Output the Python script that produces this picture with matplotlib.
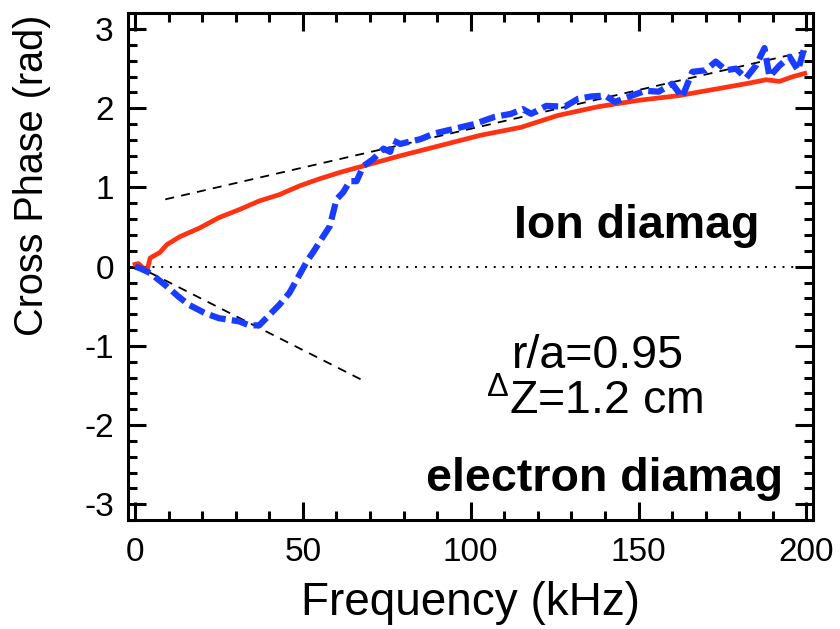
import numpy as np
import matplotlib
matplotlib.use('Agg')
import matplotlib.pyplot as plt
from matplotlib.ticker import MultipleLocator

plt.rcParams['font.family'] = ['Liberation Sans', 'DejaVu Sans']
plt.rcParams['mathtext.fontset'] = 'custom'
plt.rcParams['mathtext.rm'] = 'Liberation Sans'
plt.rcParams['mathtext.it'] = 'Liberation Sans'
plt.rcParams['axes.unicode_minus'] = False

# ── data ─────────────────────────────────────────────────────────────────────
red_freq = [0, 1, 3.5, 4.5, 7.4, 9.5, 13.4, 19.3, 25, 31, 37, 43, 49, 55, 61,
            67, 73, 79, 91, 103, 115, 126, 138, 150, 162, 174, 182, 188, 192,
            196, 199.5]
red_phase = [0.03, 0.04, -0.06, 0.11, 0.18, 0.28, 0.38, 0.49, 0.62, 0.72, 0.83,
             0.91, 1.02, 1.11, 1.19, 1.26, 1.33, 1.40, 1.53, 1.66, 1.76, 1.91,
             2.02, 2.10, 2.16, 2.25, 2.31, 2.36, 2.34, 2.40, 2.44]

blue_freq = [0, 1.5, 4.5, 9.5, 13, 16, 21, 25, 31, 34, 37, 40, 43, 46, 49, 51.5,
             53, 56, 58, 60, 62, 64, 66, 68, 71, 74, 76, 77, 79, 85, 89, 95,
             101, 107, 112, 115.5, 118, 122.5, 128, 132, 136, 140, 143, 148,
             152, 156, 160, 163, 166, 170, 173, 176, 179, 182, 185, 187.5, 189,
             192, 195, 197.5, 199.5]
blue_phase = [0.0, -0.02, -0.08, -0.25, -0.38, -0.48, -0.59, -0.65, -0.69,
              -0.74, -0.74, -0.61, -0.48, -0.33, -0.10, 0.09, 0.18, 0.38, 0.51,
              0.85, 0.94, 1.08, 1.08, 1.27, 1.36, 1.49, 1.45, 1.59, 1.55, 1.61,
              1.68, 1.74, 1.80, 1.89, 1.93, 1.99, 1.93, 2.03, 2.02, 2.12, 2.15,
              2.16, 2.08, 2.16, 2.22, 2.21, 2.31, 2.14, 2.46, 2.48, 2.59, 2.48,
              2.50, 2.38, 2.54, 2.76, 2.40, 2.54, 2.65, 2.48, 2.78]

# guide lines (end points)
fit_hi_x = [9, 200]
fit_hi_y = [0.85, 2.72]
fit_lo_x = [0, 69]
fit_lo_y = [0.02, -1.46]
zero_x = [0, 200]
zero_y = [0, 0]

fig = plt.figure(figsize=(8.4, 6.29), dpi=100)
ax = fig.add_axes([0.152, 0.173, 0.816, 0.806])

ax.plot(zero_x, zero_y, color='black', lw=1.4, ls=(0, (1, 3.5)))
ax.plot(fit_hi_x, fit_hi_y, color='black', lw=1.3, ls=(0, (5, 4)))
ax.plot(fit_lo_x, fit_lo_y, color='black', lw=1.3, ls=(0, (5, 4)))
ax.plot(red_freq, red_phase, color='#FF3311', lw=3.4)
ax.plot(blue_freq, blue_phase, color='#1A3CFF', lw=4.5, ls=(0, (2.6, 1.0)))

ax.set_xlim(-2.2, 202)
ax.set_ylim(-3.2, 3.2)
ax.xaxis.set_major_locator(MultipleLocator(50))
ax.xaxis.set_minor_locator(MultipleLocator(10))
ax.yaxis.set_major_locator(MultipleLocator(1))
ax.yaxis.set_minor_locator(MultipleLocator(0.2))
ax.tick_params(which='both', direction='in', top=True, right=True, width=2.2)
ax.tick_params(which='major', length=13, labelsize=24)
ax.tick_params(which='minor', length=6.5)
ax.tick_params(axis='x', pad=12)
ax.tick_params(axis='y', pad=10)
for sp in ax.spines.values():
    sp.set_linewidth(2.2)

fig.text(0.56, 1 - 615 / 629, 'Frequency (kHz)', fontsize=33,
         ha='center', va='baseline')
fig.text(0.038, 1 - 175 / 629, 'Cross Phase (rad)', fontsize=28.5,
         rotation=90, ha='center', va='center')

ax.text(113, 0.36, 'Ion diamag', fontsize=33.5, fontweight='bold',
        ha='left', va='baseline')
ax.text(193, -2.83, 'electron diamag', fontsize=33.5, fontweight='bold',
        ha='right', va='baseline')
ax.text(138, -1.28, 'r/a=0.95', fontsize=33.5, ha='center', va='baseline')
ax.text(137, -1.86, r'${}^{\Delta}$Z=1.2 cm', fontsize=33.5, ha='center',
        va='baseline')

plt.savefig('out.png', dpi=100)
